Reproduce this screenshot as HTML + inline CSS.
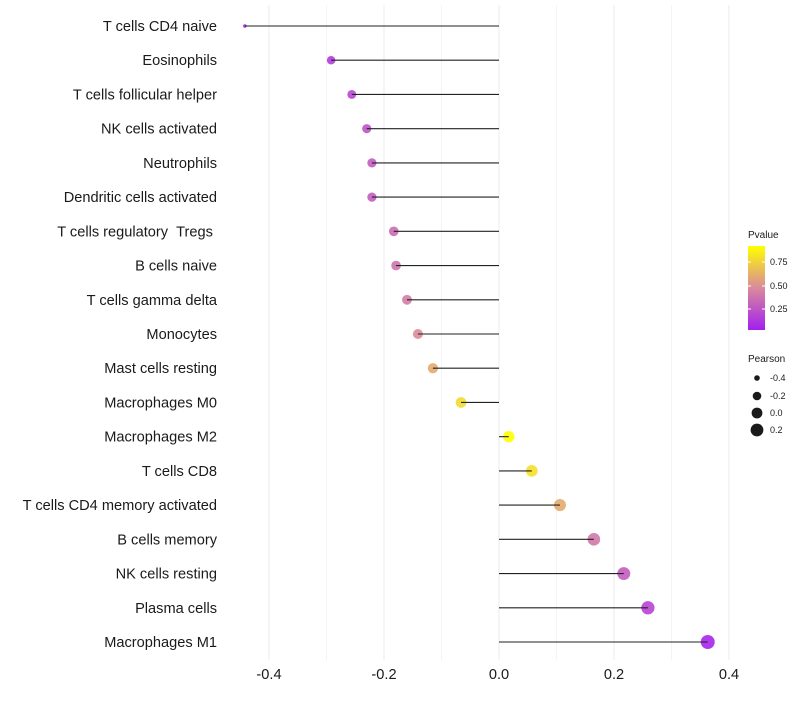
<!DOCTYPE html>
<html><head><meta charset="utf-8"><style>
body{margin:0;background:#fff;font-family:"Liberation Sans",sans-serif}
</style></head><body>
<svg id="chart" width="800" height="700" xmlns="http://www.w3.org/2000/svg">
<defs><linearGradient id="pg" x1="0" y1="1" x2="0" y2="0">
<stop offset="0" stop-color="#a31ff0"/><stop offset="0.5" stop-color="#d98a9b"/><stop offset="1" stop-color="#ffff00"/>
</linearGradient></defs>
<g id="grid"></g>
<g id="points"></g>
<g id="stems"></g>
<g id="ylab" font-size="14.6" fill="#1a1a1a" text-anchor="end"></g>
<g id="xlab" font-size="14.6" fill="#1a1a1a" text-anchor="middle"></g>
<g font-size="9" fill="#1a1a1a">
<text x="748" y="238" font-size="10">Pvalue</text>
<rect x="748" y="246" width="17" height="84" fill="url(#pg)"/>
<line x1="748" y1="262" x2="751" y2="262" stroke="#fff"/><line x1="762" y1="262" x2="765" y2="262" stroke="#fff"/>
<line x1="748" y1="286" x2="751" y2="286" stroke="#fff"/><line x1="762" y1="286" x2="765" y2="286" stroke="#fff"/>
<line x1="748" y1="309" x2="751" y2="309" stroke="#fff"/><line x1="762" y1="309" x2="765" y2="309" stroke="#fff"/>
<text x="770" y="265">0.75</text><text x="770" y="289">0.50</text><text x="770" y="312">0.25</text>
</g>
<g font-size="9" fill="#1a1a1a">
<text x="748" y="362" font-size="10">Pearson</text>
<circle cx="757" cy="378" r="2.8"/><text x="770" y="381">-0.4</text>
<circle cx="757" cy="396" r="4.3"/><text x="770" y="399">-0.2</text>
<circle cx="757" cy="413" r="5.4"/><text x="770" y="416">0.0</text>
<circle cx="757" cy="430" r="6.4"/><text x="770" y="433">0.2</text>
</g>
</svg>
<script>
const categories=["T cells CD4 naive","Eosinophils","T cells follicular helper","NK cells activated","Neutrophils","Dendritic cells activated","T cells regulatory \u00a0Tregs\u00a0","B cells naive","T cells gamma delta","Monocytes","Mast cells resting","Macrophages M0","Macrophages M2","T cells CD8","T cells CD4 memory activated","B cells memory","NK cells resting","Plasma cells","Macrophages M1"];
const pearson=[-0.442,-0.292,-0.256,-0.230,-0.221,-0.221,-0.183,-0.179,-0.160,-0.141,-0.115,-0.066,0.017,0.057,0.106,0.165,0.217,0.259,0.363];
const pvalue=[0.05,0.15,0.2,0.25,0.28,0.28,0.35,0.38,0.42,0.48,0.6,0.78,0.92,0.8,0.6,0.4,0.28,0.18,0.05];
const xTicks=[-0.4,-0.2,0.0,0.2,0.4];
const xTickLabels=["-0.4","-0.2","0.0","0.2","0.4"];
const gridVals=[-0.4,-0.3,-0.2,-0.1,0,0.1,0.2,0.3,0.4];
const NS="http://www.w3.org/2000/svg";
const x=v=>499+v*575;
const y=i=>26+i*(642-26)/(categories.length-1);
const rad=v=>{const d=v+0.442;return d<0.05?1.8+d*40:Math.sqrt(11+47*d);};
function lerp(a,b,t){return a.map((c,k)=>Math.round(c+(b[k]-c)*t));}
function col(p){const t=Math.max(0,Math.min(1,(p-0.027)/(0.92-0.027)));
const c0=[163,31,240],c1=[217,138,155],c2=[255,255,0];
const c=t<0.5?lerp(c0,c1,t/0.5):lerp(c1,c2,(t-0.5)/0.5);return `rgb(${c})`;}
function mk(tag,attrs,parent){const e=document.createElementNS(NS,tag);for(const k in attrs)e.setAttribute(k,attrs[k]);parent.appendChild(e);return e;}
const grid=document.getElementById('grid'),points=document.getElementById('points'),stems=document.getElementById('stems'),ylab=document.getElementById('ylab'),xlab=document.getElementById('xlab');
gridVals.forEach((v,i)=>{const l=mk('line',{x1:x(v),x2:x(v),y1:5,y2:660,stroke:i%2?'#f4f4f4':'#ebebeb','stroke-width':1},grid);

});
categories.forEach((c,i)=>{
const p=mk('circle',{cx:x(pearson[i]),cy:y(i),r:rad(pearson[i]),fill:col(pvalue[i]),'fill-opacity':0.9},points);


const l=mk('line',{x1:x(0),x2:x(pearson[i]),y1:y(i),y2:y(i),stroke:'#222','stroke-width':1.1},stems);


const t=mk('text',{x:217,y:y(i)+5},ylab);t.textContent=c;

});
xTicks.forEach((v,i)=>{const t=mk('text',{x:x(v),y:679},xlab);t.textContent=xTickLabels[i];

});
</script>
</body></html>
